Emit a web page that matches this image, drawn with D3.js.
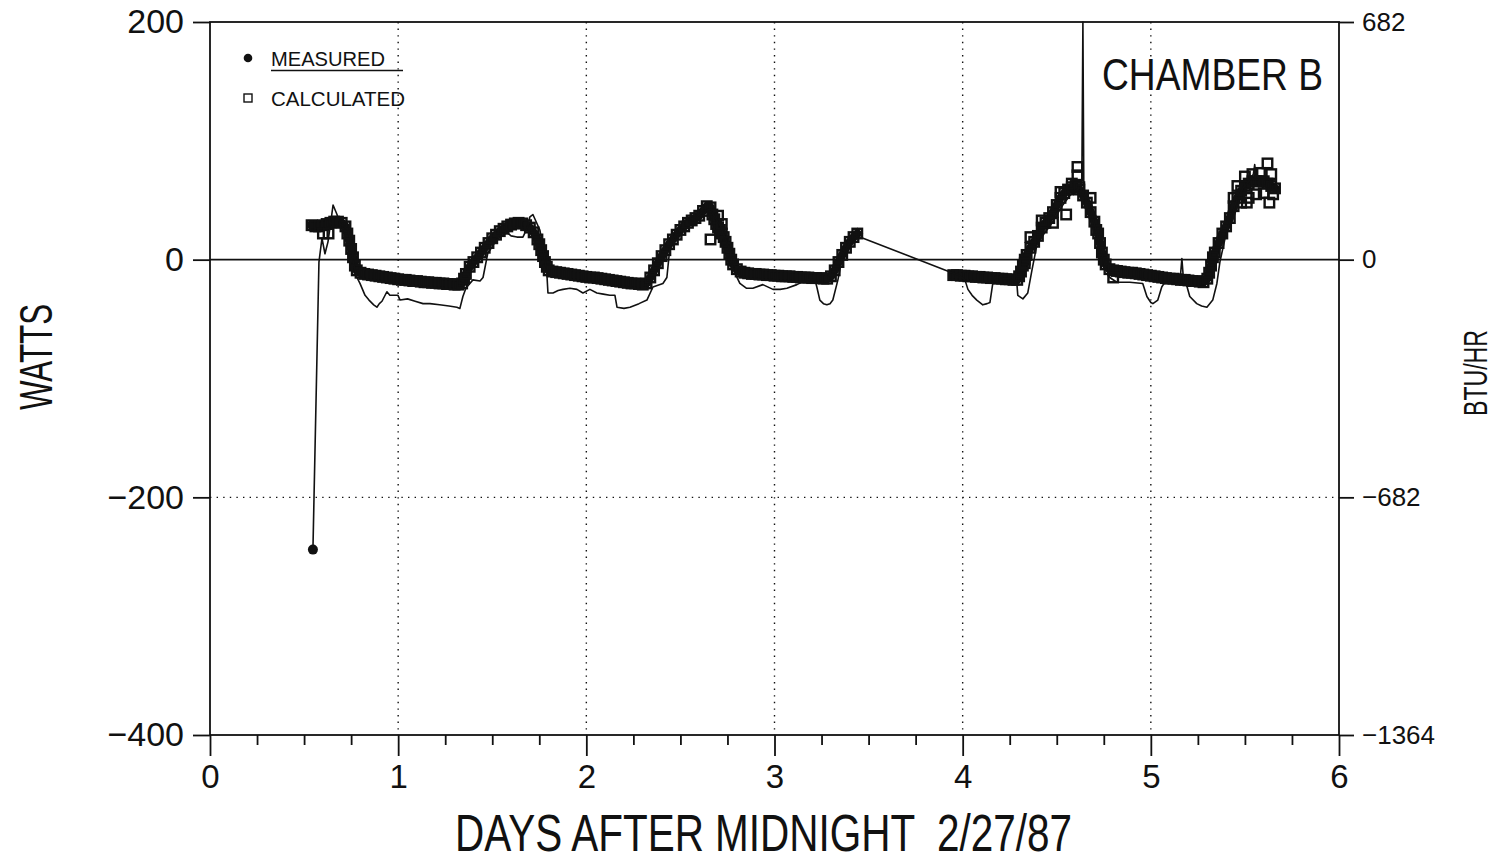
<!DOCTYPE html>
<html>
<head>
<meta charset="utf-8">
<script src="https://cdn.jsdelivr.net/npm/d3@7"></script>
<style>
  html, body { margin: 0; padding: 0; background: #fff; }
  svg { display: block; }
  text { font-family: "Liberation Sans", Arial, Helvetica, sans-serif; fill: #111; }
</style>
</head>
<body>
<svg id="chart" width="1501" height="866"></svg>
<script>
// ---- data -------------------------------------------------------------
const xTicks = [0, 1, 2, 3, 4, 5, 6];
const wattTicks = [200, 0, -200, -400];
const btuTicks = [682, 0, -682, -1364];

// Measured heat flow (thin trace), days after midnight / watts
const measDays = [0.547,0.579,0.595,0.611,0.627,0.643,0.654,0.675,0.690,0.710,0.730,0.745,0.760,0.770,0.781,0.797,0.824,0.845,0.870,0.887,0.900,0.914,0.940,0.956,0.999,1.010,1.050,1.090,1.132,1.169,1.220,1.270,1.312,1.328,1.344,1.360,1.397,1.435,1.451,1.477,1.488,1.520,1.550,1.578,1.600,1.631,1.663,1.690,1.700,1.716,1.753,1.780,1.791,1.796,1.823,1.850,1.876,1.913,1.950,1.982,2.019,2.056,2.090,2.125,2.152,2.163,2.200,2.232,2.280,2.322,2.354,2.407,2.428,2.444,2.460,2.490,2.513,2.550,2.588,2.630,2.667,2.710,2.763,2.779,2.816,2.850,2.885,2.938,2.992,3.030,3.066,3.119,3.172,3.215,3.225,3.241,3.260,3.278,3.295,3.310,3.337,3.363,3.401,3.440,3.943,3.980,4.012,4.028,4.050,4.075,4.107,4.130,4.145,4.160,4.171,4.250,4.288,4.293,4.320,4.346,4.368,4.394,4.437,4.463,4.501,4.532,4.570,4.607,4.633,4.639,4.644,4.676,4.702,4.729,4.756,4.782,4.819,4.888,4.957,4.979,5.000,5.011,5.037,5.058,5.074,5.154,5.165,5.175,5.191,5.207,5.244,5.270,5.298,5.329,5.351,5.367,5.393,5.420,5.457,5.489,5.526,5.545,5.552,5.558,5.568,5.605,5.632,5.648];
const measWatts = [-244,-2,18,5,15,33,46,38,30,28,26,18,0,-8,-15,-20,-30,-34,-38,-40,-37,-35,-27,-30,-30,-34,-33,-35,-37,-37,-38,-39,-40,-41,-31,-24,-17,-18,-15,6,8,16,20,23,20,19,19,28,36,38,25,0,-14,-28,-28,-26,-25,-24,-25,-28,-25,-28,-29,-30,-30,-40,-41,-40,-37,-34,-23,-20,-15,10,17,26,33,34,36,42,40,29,8,-8,-20,-24,-24,-21,-25,-25,-24,-21,-17,-17,-23,-34,-37,-38,-37,-34,-17,4,15,20,-11,-13,-17,-25,-30,-34,-38,-37,-36,-20,-15,-16,-20,-30,-33,-28,-9,12,23,28,38,46,54,59,57,200,55,44,29,12,-5,-15,-19,-19,-20,-31,-36,-37,-34,-23,-19,-20,1,-20,-22,-31,-37,-39,-40,-34,-20,-2,17,33,50,60,67,72,80,72,69,69,67,63];

// Calculated heat flow (open squares)
const calcDays = [0.54,0.56,0.58,0.60,0.62,0.64,0.66,0.68,0.70,0.72,0.73,0.74,0.75,0.76,0.77,0.78,0.80,0.82,0.84,0.86,0.88,0.90,0.92,0.94,0.96,0.98,1.00,1.02,1.04,1.06,1.08,1.10,1.12,1.14,1.16,1.18,1.20,1.22,1.24,1.26,1.28,1.30,1.32,1.34,1.35,1.36,1.38,1.40,1.42,1.44,1.46,1.48,1.50,1.52,1.54,1.56,1.58,1.60,1.62,1.64,1.66,1.68,1.70,1.72,1.74,1.75,1.76,1.77,1.78,1.79,1.80,1.82,1.84,1.86,1.88,1.90,1.92,1.94,1.96,1.98,2.00,2.02,2.04,2.06,2.08,2.10,2.12,2.14,2.16,2.18,2.20,2.22,2.24,2.26,2.28,2.30,2.32,2.34,2.36,2.38,2.40,2.42,2.44,2.46,2.48,2.50,2.52,2.54,2.56,2.58,2.60,2.62,2.64,2.66,2.67,2.68,2.69,2.70,2.71,2.72,2.73,2.74,2.75,2.76,2.77,2.78,2.80,2.82,2.84,2.86,2.88,2.90,2.92,2.94,2.96,2.98,3.00,3.02,3.04,3.06,3.08,3.10,3.12,3.14,3.16,3.18,3.20,3.22,3.24,3.26,3.28,3.30,3.32,3.34,3.36,3.38,3.40,3.42,3.44,
  3.95,3.97,3.99,4.01,4.03,4.05,4.07,4.09,4.11,4.13,4.15,4.17,4.19,4.21,4.23,4.25,4.27,4.29,4.30,4.31,4.32,4.33,4.34,4.36,4.38,4.40,4.42,4.44,4.46,4.48,4.50,4.52,4.54,4.56,4.58,4.60,4.62,4.64,4.66,4.68,4.70,4.72,4.73,4.74,4.75,4.76,4.78,4.80,4.82,4.84,4.86,4.88,4.90,4.92,4.94,4.96,4.98,5.00,5.02,5.04,5.06,5.08,5.10,5.12,5.14,5.16,5.18,5.20,5.22,5.24,5.26,5.28,5.30,5.31,5.32,5.33,5.34,5.36,5.38,5.40,5.42,5.44,5.46,5.48,5.50,5.52,5.54,5.56,5.58,5.60,5.62,5.64,5.66];
const calcWatts = [29,28,28,29,30,31,32,32,31,28,22,16,9,2,-5,-9,-11,-12,-12.5,-13,-13.5,-14,-14.5,-15,-15.5,-16,-16.5,-17,-17,-17.5,-18,-18,-18.5,-19,-19,-19.5,-19.5,-20,-20,-20.5,-20.5,-21,-21,-20,-16,-12,-6,-2,2,6,10,14,18,21,24,26,28,29.5,30.5,31,30.5,29,27,23,17,13,8,3,-2,-6,-9,-10,-10.5,-11,-11.5,-12,-12.5,-13,-13.5,-14,-14.5,-15,-15,-15.5,-16,-16.5,-17,-17.5,-18,-18.5,-19,-19.5,-20,-20,-20.5,-21,-20,-15,-9,-3,3,8,13,17,21,25,28,31,33,35,37,41,45,44,38,34,30,27,25,22,19,15,10,5,0,-4,-8,-10,-11,-11.5,-12,-12,-12.5,-12.5,-13,-13,-13.5,-13.5,-14,-14,-14,-14.5,-14.5,-15,-15,-15,-15.5,-15.5,-15.5,-16,-16,-14,-9,-2,4,10,15,19,22,
  -13,-13,-13.5,-13.5,-14,-14,-14.5,-14.5,-15,-15,-15.5,-15.5,-16,-16,-16.5,-16.5,-17,-17,-14,-10,-5,0,4,10,15,20,27,31,35,40,46,52,56,59,61,62,59,54,48,40,32,22,14,6,0,-4,-8,-9,-9.5,-10,-10.5,-11,-11,-11.5,-12,-12.5,-13,-13.5,-14,-14.5,-15,-15.5,-16,-16,-16.5,-17,-17,-17.5,-18,-18,-18.5,-19,-16,-11,-5,2,6,14,22,28,35,45,52,58,62,64,66,66,66,66,64,62,60];

// Calculated values that stray from the main band
const calcStrayDays = [0.60,0.63,2.66,2.70,2.72,4.33,4.36,4.42,4.48,4.52,4.55,4.58,4.61,4.61,4.62,4.68,4.71,4.80,5.44,5.46,5.48,5.50,5.51,5.52,5.54,5.56,5.58,5.60,5.62,5.63,5.64,5.65];
const calcStrayWatts = [22,22,17,37,30,-3,19,33,31,57,38,64,78,71,61,52,25,-15,52,62,48,70,48,52,72,55,73,56,81,48,72,55];

// ---- layout -----------------------------------------------------------
const svg = d3.select("#chart");
const x = d3.scaleLinear().domain([0, 6]).range([210, 1339]);
const y = d3.scaleLinear().domain([-400, 200]).range([735, 22]);
const yBtu = d3.scaleLinear().domain([-1364, 682]).range([735, 22]);
const ink = "#111";
const fontFamily = "'Liberation Sans', Arial, sans-serif";

// dotted grid lines
const grid = svg.append("g").attr("stroke", ink).attr("stroke-width", 1.4)
  .attr("stroke-dasharray", "1.4,5.2");
grid.selectAll("line.v").data([1, 2, 3, 4, 5]).join("line")
  .attr("x1", d => x(d)).attr("x2", d => x(d))
  .attr("y1", y(200)).attr("y2", y(-400));
grid.append("line")
  .attr("x1", x(0)).attr("x2", x(6))
  .attr("y1", y(-200)).attr("y2", y(-200));

// zero line
svg.append("line").attr("stroke", ink).attr("stroke-width", 1.6)
  .attr("x1", x(0)).attr("x2", x(6)).attr("y1", y(0)).attr("y2", y(0));

// bottom axis: major and minor ticks
const xMajor = svg.append("g").attr("transform", `translate(0,${y(-400)})`)
  .call(d3.axisBottom(x).tickValues(xTicks).tickSize(21).tickPadding(9).tickFormat(d3.format("d")));
const xMinor = svg.append("g").attr("transform", `translate(0,${y(-400)})`)
  .call(d3.axisBottom(x).tickValues(d3.range(1, 24).map(i => i * 0.25).filter(v => v % 1 !== 0))
    .tickSize(10).tickFormat(""));
[xMajor, xMinor].forEach(g => {
  g.select(".domain").remove();
  g.selectAll("line").attr("stroke", ink).attr("stroke-width", 1.8);
});
xMajor.selectAll("text").attr("font-size", 33).attr("fill", ink).attr("font-family", fontFamily);

// left axis
const yLeft = svg.append("g").attr("transform", `translate(${x(0)},0)`)
  .call(d3.axisLeft(y).tickValues(wattTicks).tickSize(17).tickPadding(9)
    .tickFormat(d => d < 0 ? "\u2212" + Math.abs(d) : d));
yLeft.select(".domain").remove();
yLeft.selectAll("line").attr("stroke", ink).attr("stroke-width", 1.8);
yLeft.selectAll("text").attr("font-size", 34).attr("fill", ink).attr("font-family", fontFamily);

// right axis in BTU/HR
const yRight = svg.append("g").attr("transform", `translate(${x(6)},0)`)
  .call(d3.axisRight(yBtu).tickValues(btuTicks).tickSize(15).tickPadding(8)
    .tickFormat(d => d < 0 ? "\u2212" + Math.abs(d) : d));
yRight.select(".domain").remove();
yRight.selectAll("line").attr("stroke", ink).attr("stroke-width", 1.8);
yRight.selectAll("text").attr("font-size", 26).attr("fill", ink).attr("font-family", fontFamily);

// frame
svg.append("rect").attr("fill", "none").attr("stroke", ink).attr("stroke-width", 1.8)
  .attr("x", x(0)).attr("y", y(200)).attr("width", x(6) - x(0)).attr("height", y(-400) - y(200));

// ---- series -------------------------------------------------------------
svg.append("clipPath").attr("id", "plotClip").append("rect")
  .attr("x", x(0)).attr("y", y(200) - 1).attr("width", x(6) - x(0)).attr("height", y(-400) - y(200) + 1);
const plot = svg.append("g").attr("clip-path", "url(#plotClip)");

// calculated: densely packed squares merge into a solid band
const calcMain = calcDays.map((d, i) => [d, calcWatts[i]]);
const calcRuns = [];
calcMain.forEach((p, i) => {
  if (i === 0 || p[0] - calcMain[i - 1][0] > 0.1) calcRuns.push([]);
  calcRuns[calcRuns.length - 1].push(p);
});
const bandLine = d3.line().x(d => x(d[0])).y(d => y(d[1]));
plot.append("g").selectAll("path").data(calcRuns).join("path")
  .attr("fill", "none").attr("stroke", ink).attr("stroke-width", 8.5)
  .attr("stroke-linejoin", "round").attr("stroke-linecap", "square")
  .attr("d", bandLine);

const calc = calcMain.concat(calcStrayDays.map((d, i) => [d, calcStrayWatts[i]]));
const sq = 9.5;
plot.append("g").attr("fill", "none").attr("stroke", ink).attr("stroke-width", 2.4)
  .selectAll("rect").data(calc).join("rect")
  .attr("x", d => x(d[0]) - sq / 2).attr("y", d => y(d[1]) - sq / 2)
  .attr("width", sq).attr("height", sq);

// measured: thin trace with a filled circle at its first reading
const meas = measDays.map((d, i) => [d, measWatts[i]]);
plot.append("path").datum(meas)
  .attr("fill", "none").attr("stroke", ink).attr("stroke-width", 1.6).attr("stroke-linejoin", "round")
  .attr("d", d3.line().x(d => x(d[0])).y(d => y(d[1])));
plot.append("circle").attr("fill", ink)
  .attr("cx", x(meas[0][0])).attr("cy", y(meas[0][1])).attr("r", 5);

// ---- legend -------------------------------------------------------------
const legend = svg.append("g");
legend.append("circle").attr("cx", 248).attr("cy", 58).attr("r", 4.3).attr("fill", ink);
legend.append("text").attr("x", 271).attr("y", 66).attr("font-size", 20)
  .attr("textLength", 114).attr("lengthAdjust", "spacingAndGlyphs").text("MEASURED");
legend.append("line").attr("x1", 271).attr("x2", 403).attr("y1", 70.5).attr("y2", 70.5)
  .attr("stroke", ink).attr("stroke-width", 1.6);
legend.append("rect").attr("x", 244).attr("y", 94).attr("width", 8).attr("height", 8)
  .attr("fill", "none").attr("stroke", ink).attr("stroke-width", 1.4);
legend.append("text").attr("x", 271).attr("y", 106).attr("font-size", 20)
  .attr("textLength", 134).attr("lengthAdjust", "spacingAndGlyphs").text("CALCULATED");

// ---- titles -------------------------------------------------------------
svg.append("text").attr("x", 1102).attr("y", 90).attr("font-size", 45)
  .attr("textLength", 221).attr("lengthAdjust", "spacingAndGlyphs").text("CHAMBER B");

svg.append("text").attr("x", 455).attr("y", 851).attr("font-size", 52)
  .style("white-space", "pre")
  .attr("textLength", 617).attr("lengthAdjust", "spacingAndGlyphs")
  .text("DAYS AFTER MIDNIGHT  2/27/87");

svg.append("text").attr("transform", "translate(52,410) rotate(-90)").attr("font-size", 46)
  .attr("textLength", 106).attr("lengthAdjust", "spacingAndGlyphs").text("WATTS");

svg.append("text").attr("transform", "translate(1487,416) rotate(-90)").attr("font-size", 33)
  .attr("textLength", 86).attr("lengthAdjust", "spacingAndGlyphs").text("BTU/HR");
</script>
</body>
</html>
